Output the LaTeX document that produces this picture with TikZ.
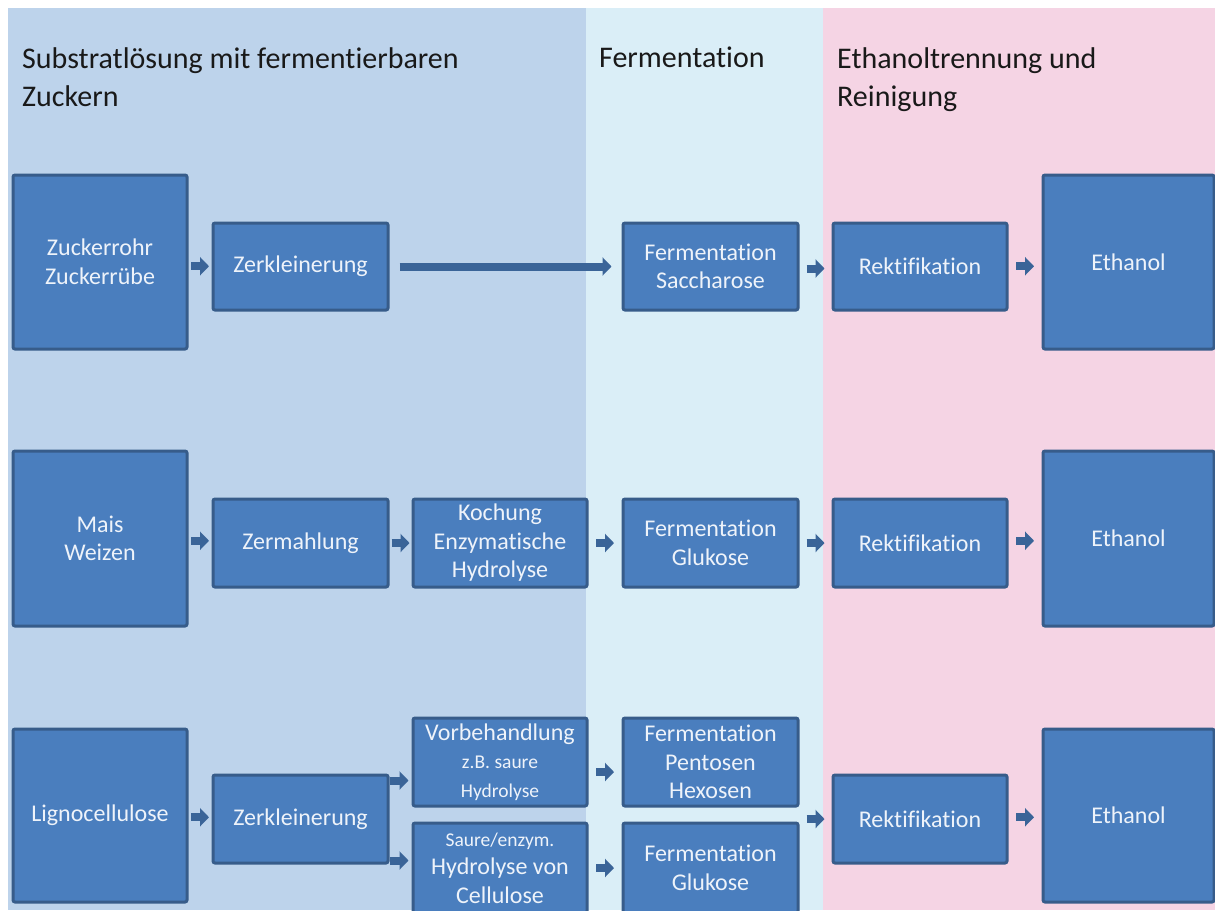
\documentclass[tikz,border=0pt]{standalone}
\usepackage{fontspec}
\setmainfont[Ligatures=NoCommon]{Carlito}
\usetikzlibrary{calc,arrows.meta}
\definecolor{bgblue}{RGB}{189,211,235}
\definecolor{bgcyan}{RGB}{218,238,247}
\definecolor{bgpink}{RGB}{245,212,228}
\definecolor{boxfill}{RGB}{74,126,190}
\definecolor{boxline}{RGB}{55,92,138}
\definecolor{arrowc}{RGB}{58,100,152}
\definecolor{boxtext}{RGB}{238,243,250}
\newcommand\smalltxt{\fontsize{19.5}{25.5}\selectfont}
\tikzset{
  procbox/.style={draw=boxline, fill=boxfill, line width=3pt, rounded corners=2pt,
    inner sep=0pt, align=center, text=boxtext,
    font=\fontsize{24}{28.5}\selectfont},
  titletxt/.style={inner sep=0pt, align=left, text=black!90,
    font=\fontsize{30}{38}\selectfont},
  barrow/.style={draw=arrowc, line width=8pt, -{Triangle[length=9pt,width=18pt]}},
}
\newcommand\barr[3][0]{\draw[barrow] ($(#2.east)!.5!(#3.west)+(-9,#1)$) -- ($(#2.east)!.5!(#3.west)+(9,#1)$);}
\begin{document}
\begin{tikzpicture}[x=1pt,y=-1pt]
\useasboundingbox (0,0) rectangle (1215,910);
\fill[white] (0,0) rectangle (1215,910);
\fill[bgblue] (8,8) rectangle (586,910);
\fill[bgcyan] (586,8) rectangle (823,910);
\fill[bgpink] (823,8) rectangle (1215,910);

% titles
\node[titletxt, anchor=north west] (t1) at (22,47) {Substratlösung mit fermentierbaren\\Zuckern};
\node[titletxt, anchor=north west] (t2) at (599,47) {Fermentation};
\node[titletxt, anchor=north west] (t3) at (837,47) {Ethanoltrennung und\\Reinigung};

% row 1
\node[procbox, minimum width=174, minimum height=174] (zr) at (100,262) {Zuckerrohr\\Zuckerrübe};
\node[procbox, minimum width=175, minimum height=87] (zk1) at (300.5,266.5) {Zerkleinerung};
\node[procbox, minimum width=175, minimum height=87] (fs) at (710.5,266.5) {Fermentation\\Saccharose};
\node[procbox, minimum width=174, minimum height=87] (rk1) at (920,266.5) {Rektifikation};
\node[procbox, minimum width=171, minimum height=174] (et1) at (1128.5,262) {Ethanol};

% row 2
\node[procbox, minimum width=174, minimum height=175] (ms) at (100,538.5) {Mais\\Weizen};
\node[procbox, minimum width=175, minimum height=88] (zm) at (300.5,543) {Zermahlung};
\node[procbox, minimum width=174, minimum height=88] (ko) at (500,543) {Kochung\\Enzymatische\\Hydrolyse};
\node[procbox, minimum width=175, minimum height=88] (fg2) at (710.5,543) {Fermentation\\Glukose};
\node[procbox, minimum width=174, minimum height=88] (rk2) at (920,543) {Rektifikation};
\node[procbox, minimum width=171, minimum height=175] (et2) at (1128.5,538.5) {Ethanol};

% row 3
\node[procbox, minimum width=174, minimum height=173] (lc) at (100,815.5) {Lignocellulose};
\node[procbox, minimum width=175, minimum height=88] (zk3) at (300.5,819) {Zerkleinerung};
\node[procbox, minimum width=174, minimum height=88] (vb) at (500,762) {Vorbehandlung\\\smalltxt z.B. saure\\\smalltxt Hydrolyse};
\node[procbox, minimum width=174, minimum height=90] (sa) at (500,868) {\smalltxt Saure/enzym.\\Hydrolyse von\\Cellulose};
\node[procbox, minimum width=175, minimum height=88] (fp) at (710.5,762) {Fermentation\\Pentosen\\Hexosen};
\node[procbox, minimum width=175, minimum height=90] (fg3) at (710.5,868) {Fermentation\\Glukose};
\node[procbox, minimum width=174, minimum height=88] (rk3) at (920,819) {Rektifikation};
\node[procbox, minimum width=171, minimum height=173] (et3) at (1128.5,815.5) {Ethanol};

% arrows row 1
\barr[2]{zr}{zk1}
\draw[barrow, shorten <=10pt, shorten >=10pt] (zk1.east) -- (fs.west);
\barr[2]{fs}{rk1}
\barr[2]{rk1}{et1}

% arrows row 2
\barr{ms}{zm}
\barr{zm}{ko}
\barr{ko}{fg2}
\barr{fg2}{rk2}
\barr{rk2}{et2}

% arrows row 3
\barr{lc}{zk3}
\draw[barrow, shorten >=3pt] ([yshift=-7pt]zk3.north east) -- ([yshift=-7pt]zk3.north east -| vb.west);
\draw[barrow, shorten >=3pt] ([yshift=4pt]zk3.south east) -- ([yshift=4pt]zk3.south east -| sa.west);
\barr[10]{vb}{fp}
\barr{sa}{fg3}
\coordinate (fe) at (rk3.west -| fp.east);
\barr{fe}{rk3}
\barr{rk3}{et3}
\end{tikzpicture}
\end{document}
